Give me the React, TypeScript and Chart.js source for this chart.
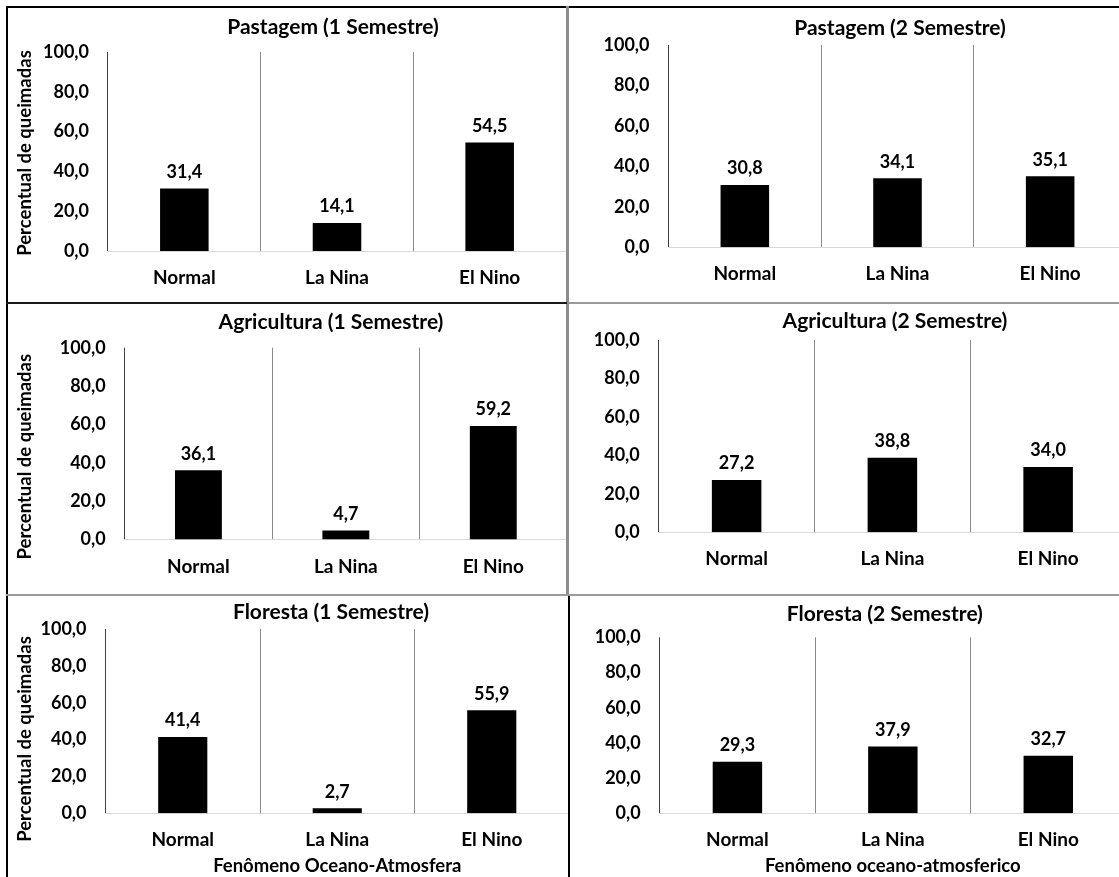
import React, { useEffect, useRef } from 'react';
import { Chart, registerables } from 'chart.js';

Chart.register(...registerables);

// ---- data ----
const categories = ['Normal', 'La Nina', 'El Nino'];
const pastagem1 = [31.4, 14.1, 54.5];
const pastagem2 = [30.8, 34.1, 35.1];
const agricultura1 = [36.1, 4.7, 59.2];
const agricultura2 = [27.2, 38.8, 34.0];
const floresta1 = [41.4, 2.7, 55.9];
const floresta2 = [29.3, 37.9, 32.7];
const yTickLabels = ['0,0', '20,0', '40,0', '60,0', '80,0', '100,0'];
const yAxisTitle = 'Percentual de queimadas';
const xTitleLeft = 'Fenômeno Oceano-Atmosfera';
const xTitleRight = 'Fenômeno oceano-atmosferico';

const FONT = 'Lato';

type Rect = { x: number; y: number; w: number; h: number };
type Area = { l: number; r: number; t: number; b: number };
type Panel = {
  title: string;
  values: number[];
  canvas: Rect;
  area: Area;
  titlePos: { x: number; y: number };
  yTitlePos?: { x: number; y: number };
  xTitle?: string;
};

const panels: Panel[] = [
  {
    title: 'Pastagem (1 Semestre)', values: pastagem1,
    canvas: { x: 9, y: 9, w: 558, h: 294 },
    area: { l: 108, r: 566, t: 52, b: 251 },
    titlePos: { x: 333, y: 27 }, yTitlePos: { x: 25.5, y: 153 },
  },
  {
    title: 'Pastagem (2 Semestre)', values: pastagem2,
    canvas: { x: 570, y: 9, w: 560, h: 294 },
    area: { l: 668.5, r: 1126.5, t: 45, b: 247.3 },
    titlePos: { x: 900, y: 28.3 },
  },
  {
    title: 'Agricultura (1 Semestre)', values: agricultura1,
    canvas: { x: 9, y: 305, w: 558, h: 289 },
    area: { l: 124.7, r: 567, t: 347.7, b: 539.5 },
    titlePos: { x: 331, y: 322.3 }, yTitlePos: { x: 25.5, y: 456.7 },
  },
  {
    title: 'Agricultura (2 Semestre)', values: agricultura2,
    canvas: { x: 570, y: 305, w: 560, h: 289 },
    area: { l: 658.75, r: 1126, t: 340, b: 532.3 },
    titlePos: { x: 895, y: 321.7 },
  },
  {
    title: 'Floresta (1 Semestre)', values: floresta1,
    canvas: { x: 9, y: 597, w: 560, h: 280 },
    area: { l: 105.5, r: 569, t: 629, b: 813.3 },
    titlePos: { x: 331, y: 612.3 }, yTitlePos: { x: 25.5, y: 739 },
    xTitle: xTitleLeft,
  },
  {
    title: 'Floresta (2 Semestre)', values: floresta2,
    canvas: { x: 571, y: 597, w: 559, h: 280 },
    area: { l: 659.7, r: 1126, t: 637.3, b: 813.3 },
    titlePos: { x: 884.8, y: 614.3 },
    xTitle: xTitleRight,
  },
];

const fmt = (v: number) => v.toFixed(1).replace('.', ',');

const annotatePlugin = {
  id: 'annotate',
  afterDatasetsDraw(chart: any, _args: any, opts: any) {
    const ctx = chart.ctx as CanvasRenderingContext2D;
    ctx.save();
    ctx.fillStyle = '#000';
    ctx.textAlign = 'center';
    ctx.textBaseline = 'middle';
    ctx.font = `bold 18px ${FONT}`;
    const meta = chart.getDatasetMeta(0);
    meta.data.forEach((bar: any, i: number) => {
      const v = chart.data.datasets[0].data[i] as number;
      ctx.fillText(fmt(v), bar.x, bar.y - 16.5);
    });
    ctx.font = `bold 21px ${FONT}`;
    ctx.fillText(opts.title, opts.titleX, opts.titleY);
    if (opts.yTitle) {
      ctx.font = `bold 18.5px ${FONT}`;
      ctx.translate(opts.yTitleX, opts.yTitleY);
      ctx.rotate(-Math.PI / 2);
      ctx.fillText(opts.yTitle, 0, 0);
    }
    ctx.restore();
  },
};

function PanelChart({ p }: { p: Panel }) {
  const ref = useRef<HTMLCanvasElement | null>(null);
  useEffect(() => {
    if (!ref.current) return;
    const c = p.canvas;
    const a = p.area;
    const yWidth = a.l - c.x;
    const xHeight = c.y + c.h - a.b;
    const chart = new Chart(ref.current, {
      type: 'bar',
      data: {
        labels: categories,
        datasets: [
          {
            data: p.values,
            backgroundColor: '#000000',
            borderWidth: 0,
            categoryPercentage: 1,
            barPercentage: 0.318,
          },
        ],
      },
      plugins: [annotatePlugin],
      options: {
        responsive: false,
        animation: false,
        devicePixelRatio: 1,
        layout: {
          padding: { left: 0, top: a.t - c.y, right: c.x + c.w - a.r, bottom: 0 },
        },
        plugins: {
          legend: { display: false },
          title: { display: false },
          tooltip: { enabled: false },
          annotate: {
            title: p.title,
            titleX: p.titlePos.x - c.x,
            titleY: p.titlePos.y - c.y,
            yTitle: p.yTitlePos ? yAxisTitle : '',
            yTitleX: p.yTitlePos ? p.yTitlePos.x - c.x : 0,
            yTitleY: p.yTitlePos ? p.yTitlePos.y - c.y : 0,
          },
        } as any,
        scales: {
          x: {
            offset: true,
            grid: {
              display: true,
              offset: true,
              drawTicks: false,
              color: (ctx: any) => (ctx.index === 0 ? '#404040' : '#8a8a8a'),
              lineWidth: 1,
            },
            border: { display: true, color: '#d9d9d9', width: 1 },
            ticks: {
              padding: 15.6,
              color: '#000',
              font: { family: FONT, size: 19, weight: 'bold' },
              maxRotation: 0,
            },
            title: {
              display: !!p.xTitle,
              text: p.xTitle || '',
              color: '#000',
              font: { family: FONT, size: 18.5, weight: 'bold' },
              padding: { top: 0, bottom: 0 },
            },
            afterFit: (scale: any) => {
              scale.height = xHeight;
            },
          },
          y: {
            min: 0,
            max: 100,
            grid: { display: false, drawTicks: false },
            border: { display: false },
            ticks: {
              stepSize: 20,
              padding: 19,
              color: '#000',
              font: { family: FONT, size: 18, weight: 'bold' },
              callback: (_v: any, i: number) => yTickLabels[i],
            },
            afterFit: (scale: any) => {
              scale.width = yWidth;
            },
          },
        },
      } as any,
    });
    return () => chart.destroy();
  }, [p]);
  return (
    <canvas
      ref={ref}
      width={p.canvas.w}
      height={p.canvas.h}
      style={{
        position: 'absolute',
        left: p.canvas.x,
        top: p.canvas.y,
        width: p.canvas.w,
        height: p.canvas.h,
      }}
    />
  );
}

const line = (left: number, top: number, width: number, height: number, color: string) => (
  <div
    style={{ position: 'absolute', left, top, width, height, background: color, zIndex: 2 }}
  />
);

export default function App() {
  return (
    <div
      style={{
        position: 'absolute',
        left: 0,
        top: 0,
        width: 1119,
        height: 877,
        overflow: 'hidden',
        background: '#ffffff',
      }}
    >
      {panels.map((p, i) => (
        <PanelChart key={i} p={p} />
      ))}
      {line(6, 6, 1113, 2, '#000')}
      {line(6, 6, 2, 871, '#000')}
      {line(566, 6, 3, 589, '#8c8c8c')}
      {line(568, 595, 2, 282, '#000')}
      {line(6, 302, 561, 2, '#1a1a1a')}
      {line(569, 302, 550, 2, '#9a9a9a')}
      {line(6, 594, 1113, 2, '#9a9a9a')}
    </div>
  );
}
